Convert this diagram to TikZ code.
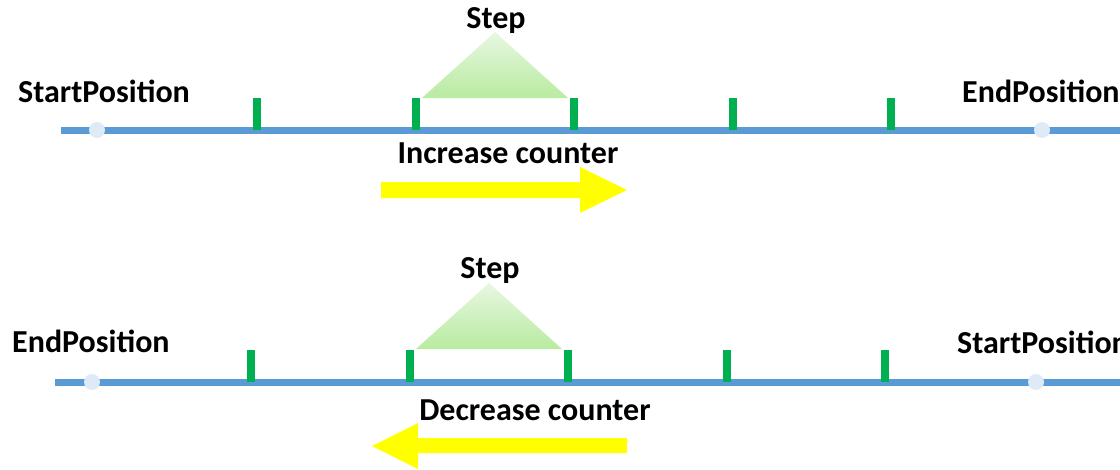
\documentclass[tikz,border=0pt]{standalone}
\usepackage{fontspec}
\setmainfont{Carlito}
\begin{document}
\begin{tikzpicture}[x=1pt,y=-1pt,
  lbl/.style={font=\fontsize{32}{38}\selectfont\bfseries, inner sep=0pt, text=black},
  axisline/.style={draw={rgb,255:red,91;green,155;blue,213}, line width=7pt},
  tickmark/.style={fill={rgb,255:red,0;green,176;blue,80}},
  posdot/.style={circle, fill={rgb,255:red,222;green,235;blue,247}, minimum size=16pt, inner sep=0pt},
  stepshade/.style={top color={rgb,255:red,232;green,247;blue,226}, bottom color={rgb,255:red,184;green,235;blue,160}},
  yarrow/.style={fill={rgb,255:red,255;green,255;blue,0}}
]
\useasboundingbox (0,0) rectangle (1120,469);
\clip (0,0) rectangle (1120,469);

% ---- top row ----
\coordinate (a1) at (61,130);
\coordinate (b1) at (1125,130);
\draw[axisline] (a1) -- (b1);
\node[posdot] (s1) at (97,130) {};
\node[posdot] (e1) at (1042,130) {};
\foreach \x in {257,416,574,733,891}{
  \fill[tickmark] (\x-4,98) rectangle (\x+4,130);
}
\shade[stepshade] (422,98) -- (495,32) -- (568,98) -- cycle;
\node[lbl, anchor=base] (step1) at (496,28) {Step};
\node[lbl, anchor=base west] (start1) at (18,102) {StartPosition};
\node[lbl, anchor=base west] (end1) at (962,102) {EndPosition};
\node[lbl, anchor=base] (inc) at (508,163) {Increase counter};
\fill[yarrow] (381,182) -- (580,182) -- (580,167) -- (627,190) -- (580,213) -- (580,198) -- (381,198) -- cycle;

% ---- bottom row ----
\coordinate (a2) at (55,382);
\coordinate (b2) at (1125,382);
\draw[axisline] (a2) -- (b2);
\node[posdot] (s2) at (92,382) {};
\node[posdot] (e2) at (1036,382) {};
\foreach \x in {251,410,568,727,885}{
  \fill[tickmark] (\x-4,350) rectangle (\x+4,382);
}
\shade[stepshade] (416,349) -- (489,283) -- (562,349) -- cycle;
\node[lbl, anchor=base] (step2) at (490,278) {Step};
\node[lbl, anchor=base west] (end2) at (12,352) {EndPosition};
\node[lbl, anchor=base west] (start2) at (957,353) {StartPosition};
\node[lbl, anchor=base] (dec) at (535,420) {Decrease counter};
\fill[yarrow] (627,438) -- (418,438) -- (418,423) -- (372,446) -- (418,469) -- (418,453) -- (627,453) -- cycle;
\end{tikzpicture}
\end{document}
